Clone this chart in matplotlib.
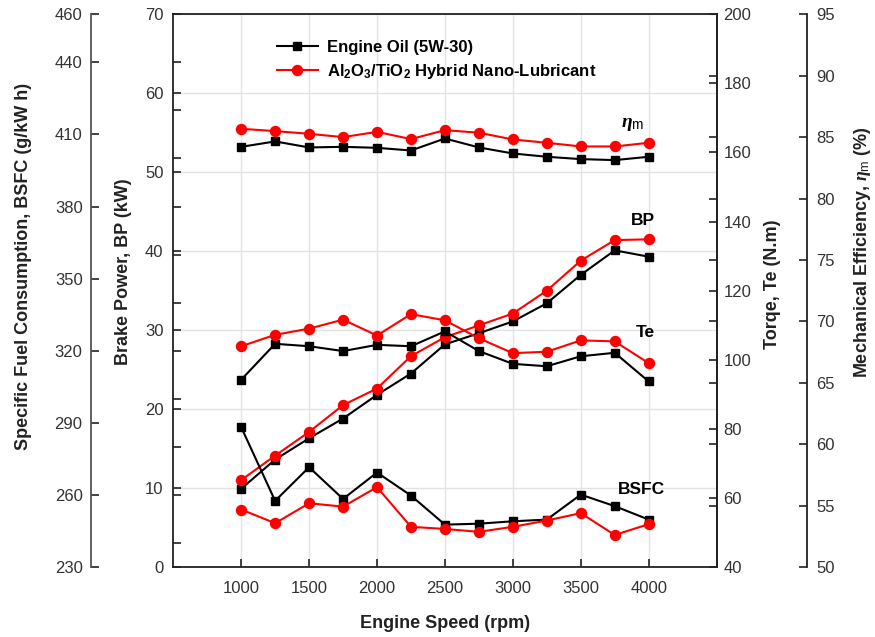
import matplotlib
matplotlib.use("Agg")
import matplotlib.pyplot as plt
import numpy as np

plt.rcParams['font.family'] = ['Liberation Sans', 'DejaVu Sans']
plt.rcParams['mathtext.fontset'] = 'custom'
plt.rcParams['mathtext.rm'] = 'Liberation Sans'
plt.rcParams['mathtext.bf'] = 'Liberation Sans:bold'
plt.rcParams['mathtext.it'] = 'Liberation Serif:bold:italic'

# engine speed (rpm)
rpm = [1000, 1250, 1500, 1750, 2000, 2250, 2500, 2750, 3000, 3250, 3500, 3750, 4000]

# brake power (kW)
bp_oil = [9.9, 13.6, 16.3, 18.8, 21.8, 24.5, 28.2, 29.6, 31.1, 33.4, 37.0, 40.1, 39.3]
bp_nano = [11.0, 14.1, 17.1, 20.5, 22.6, 26.7, 29.1, 30.6, 32.1, 35.0, 38.8, 41.4, 41.5]

# torque (N.m)
te_oil = [94.2, 104.6, 103.9, 102.5, 104.3, 103.9, 108.2, 102.5, 98.8, 98.1, 101.0, 102.0, 93.7]
te_nano = [103.9, 107.2, 109.0, 111.6, 107.0, 113.2, 111.4, 106.2, 101.9, 102.3, 105.6, 105.3, 99.0]

# BSFC (g/kW h)
bsfc_oil = [288.2, 257.5, 271.5, 258.3, 269.3, 259.7, 247.6, 248.0, 249.0, 249.7, 260.1, 255.3, 249.7]
bsfc_nano = [253.9, 248.2, 256.5, 255.1, 263.2, 246.7, 245.8, 244.6, 246.7, 249.3, 252.4, 243.3, 247.8]

# mechanical efficiency (%)
eff_oil = [84.21, 84.65, 84.16, 84.21, 84.13, 83.91, 84.89, 84.16, 83.67, 83.40, 83.21, 83.13, 83.40]
eff_nano = [85.68, 85.49, 85.27, 85.0, 85.43, 84.84, 85.57, 85.36, 84.81, 84.54, 84.24, 84.24, 84.54]

oil_label = "Engine Oil (5W-30)"
nano_label = r"Al$_\mathbf{2}$O$_\mathbf{3}$/TiO$_\mathbf{2}$ Hybrid Nano-Lubricant"

tick_color = '#333333'
spine_color = '#222222'
lab_color = '#222222'
fs_tick = 12
fs_lab = 13

oil_style = dict(color='black', marker='s', markersize=5.8, linewidth=1.5)
nano_style = dict(color='#ff0000', marker='o', markersize=7.2, linewidth=1.5)

fig = plt.figure(figsize=(8.75, 6.37), dpi=100)
ax = fig.add_axes([0.198, 0.110, 0.621, 0.8675])

# main axis: brake power
ax.set_xlim(500, 4500)
ax.set_ylim(0, 70)
ax.set_xticks([1000, 1500, 2000, 2500, 3000, 3500, 4000])
ax.set_yticks(np.arange(0, 71, 10))
ax.grid(True, color='#e3e3e3', linewidth=1)
ax.set_axisbelow(True)
ax.tick_params(direction='in', length=6, width=1.2, colors=spine_color,
               labelcolor=tick_color, labelsize=fs_tick)
ax.tick_params(axis='x', pad=10)
ax.tick_params(axis='y', pad=7)
for s in ax.spines.values():
    s.set_color(spine_color)
    s.set_linewidth(1.3)
l1, = ax.plot(rpm, bp_oil, label=oil_label, **oil_style)
l2, = ax.plot(rpm, bp_nano, label=nano_label, **nano_style)
ax.set_xlabel("Engine Speed (rpm)", fontsize=fs_lab, fontweight='bold', color=lab_color)
ax.xaxis.set_label_coords(0.5, -0.087)
ax.set_ylabel("Brake Power, BP (kW)", fontsize=fs_lab, fontweight='bold', color=lab_color)
ax.yaxis.set_label_coords(-0.076, 0.534)

# extra ticks on the main left spine (BSFC step 20)
sec = ax.twinx()
sec.set_ylim(230, 460)
sec.yaxis.set_ticks_position('left')
sec.set_yticks(np.arange(240, 441, 20))
sec.set_yticklabels([])
sec.tick_params(direction='in', length=6, width=1.2, colors=spine_color)
for s in sec.spines.values():
    s.set_visible(False)

# BSFC axis (outer left)
ax_b = ax.twinx()
ax_b.set_ylim(230, 460)
ax_b.spines['left'].set_position(('axes', -0.1515))
ax_b.spines['left'].set_visible(True)
ax_b.spines['left'].set_color('#555555')
ax_b.spines['left'].set_linewidth(1.3)
for k in ['right', 'top', 'bottom']:
    ax_b.spines[k].set_visible(False)
ax_b.yaxis.set_ticks_position('left')
ax_b.yaxis.set_label_position('left')
ax_b.set_yticks([230, 260, 290, 320, 350, 380, 410, 440, 460])
ax_b.tick_params(direction='in', length=6, width=1.2, colors=spine_color,
                 labelcolor=tick_color, labelsize=fs_tick, pad=6)
ax_b.plot(rpm, bsfc_oil, **oil_style)
ax_b.plot(rpm, bsfc_nano, **nano_style)
ax_b.set_ylabel("Specific Fuel Consumption, BSFC (g/kW h)", fontsize=fs_lab,
                fontweight='bold', color=lab_color)
ax_b.yaxis.set_label_coords(-0.26, 0.544)

# extra ticks on the torque spine (efficiency step 5)
sec2 = ax.twinx()
sec2.set_ylim(50, 95)
sec2.set_yticks(np.arange(55, 91, 5))
sec2.set_yticklabels([])
sec2.tick_params(direction='in', length=6, width=1.2, colors=spine_color)
for s in sec2.spines.values():
    s.set_visible(False)

# torque axis (inner right)
ax_t = ax.twinx()
ax_t.set_ylim(40, 200)
ax_t.set_yticks(np.arange(40, 201, 20))
ax_t.tick_params(direction='in', length=6, width=1.2, colors=spine_color,
                 labelcolor=tick_color, labelsize=fs_tick, pad=5)
for k in ['left', 'top', 'bottom']:
    ax_t.spines[k].set_visible(False)
ax_t.spines['right'].set_color(spine_color)
ax_t.spines['right'].set_linewidth(1.3)
ax_t.plot(rpm, te_oil, **oil_style)
ax_t.plot(rpm, te_nano, **nano_style)
ax_t.set_ylabel("Torqe, Te (N.m)", fontsize=fs_lab, fontweight='bold', color=lab_color)
ax_t.yaxis.set_label_coords(1.087, 0.512)

# mechanical efficiency axis (outer right)
ax_e = ax.twinx()
ax_e.set_ylim(50, 95)
ax_e.spines['right'].set_position(('axes', 1.1656))
ax_e.spines['right'].set_color(spine_color)
ax_e.spines['right'].set_linewidth(1.3)
for k in ['left', 'top', 'bottom']:
    ax_e.spines[k].set_visible(False)
ax_e.set_yticks(np.arange(50, 96, 5))
ax_e.tick_params(direction='in', length=6, width=1.2, colors=spine_color,
                 labelcolor=tick_color, labelsize=fs_tick, pad=7)
ax_e.plot(rpm, eff_oil, **oil_style)
ax_e.plot(rpm, eff_nano, **nano_style)
ax_e.set_ylabel(r"Mechanical Efficiency, $\eta_{\mathrm{m}}$ (%)", fontsize=fs_lab,
                fontweight='bold', color=lab_color)
ax_e.yaxis.set_label_coords(1.249, 0.57)

# curve tags
ax.text(3884, 56.0, r"$\eta_{\mathrm{m}}$", fontsize=14, ha='center', va='center')
ax.text(3957, 43.9, "BP", fontsize=12.5, fontweight='bold', ha='center', va='center')
ax.text(3977, 29.7, "Te", fontsize=12.5, fontweight='bold', ha='center', va='center')
ax.text(3943, 9.8, "BSFC", fontsize=12.5, fontweight='bold', ha='center', va='center')

leg = ax_e.legend([l1, l2], [oil_label, nano_label], loc='upper left',
                  bbox_to_anchor=(0.178, 0.966), frameon=False, handlelength=2.5,
                  prop={'weight': 'bold', 'size': 12}, labelspacing=0.45,
                  handletextpad=0.5, borderaxespad=0)

fig.savefig("out.png", dpi=100)
